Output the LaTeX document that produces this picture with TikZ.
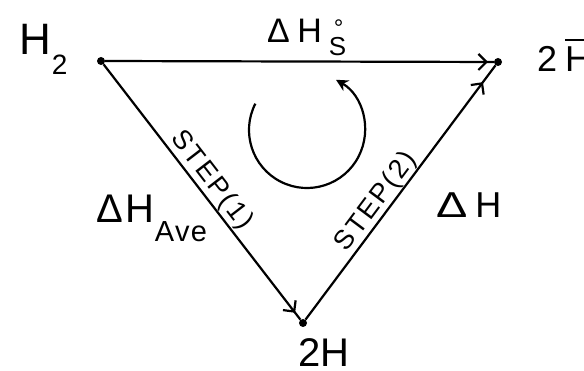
\documentclass[tikz,border=0pt]{standalone}
\usepackage{fontspec}
\usepackage{graphicx}
\setmainfont{Liberation Sans}
\usetikzlibrary{arrows.meta,decorations.markings}
\newcommand{\fs}[1]{\fontsize{#1}{#1}\selectfont}
\begin{document}
\begin{tikzpicture}[x=1pt,y=-1pt,
  dot/.style={circle,fill=black,inner sep=0pt,minimum size=8pt},
  edge/.style={line width=2.2pt},
  midarrow/.style={postaction={decorate},decoration={markings,
     mark=at position #1 with {\arrow[line width=2.2pt]{Straight Barb[length=8pt,width=16pt]}}}},
  lbl/.style={inner sep=0pt,anchor=base west},
  steplbl/.style={inner sep=0pt,sloped,font=\fs{27}\addfontfeatures{LetterSpace=8}}]
\useasboundingbox (0,0) rectangle (584,371);
% vertices
\node[dot] (h2) at (101,61) {};
\node[dot] (hbar) at (498,62) {};
\node[dot] (h) at (303,323) {};
% edges
\draw[edge,midarrow=0.985] (h2) -- (hbar);
\draw[edge,midarrow=0.973] (h2) -- node[steplbl,above=1pt,pos=0.49] (s1) {STEP(1)} (h);
\draw[edge,midarrow=0.934] (h) -- node[steplbl,above=0pt,pos=0.43] (s2) {STEP(2)} (hbar);
% cycle arrow
\coordinate (c) at (307,130);
\draw[line width=2.2pt,-{Stealth[length=12pt,width=12pt]}] (c) ++(207:58) arc[start angle=207,end angle=-60,radius=58];
% labels
\node[lbl] (lh2) at (19,55) {\fs{44}H\hspace{1pt}\raisebox{-20pt}{\fs{28}2}};
\node[lbl] (ldhs) at (267,43) {\fs{34}Δ\hspace{7.5pt}H\hspace{7pt}\rlap{\raisebox{-13pt}{\fs{26}S}}\hspace{5pt}\raisebox{6pt}{\fs{24}°}};
\node[lbl] (lhbar) at (537,72) {\fs{36}2\hspace{8pt}\rlap{\rule[31pt]{30pt}{2.2pt}}H};
\node[lbl] (l2h) at (298,367) {\fs{40}2H};
\node[lbl] (lave) at (96,223) {\fs{40}Δ\hspace{3pt}H\hspace{0pt}\raisebox{-19pt}{\fs{29}\addfontfeatures{LetterSpace=5}Ave}};
\node[lbl] (ldh) at (436,218) {\fs{36}\scalebox{1.3}[1]{Δ}\hspace{8pt}H};
\end{tikzpicture}
\end{document}
